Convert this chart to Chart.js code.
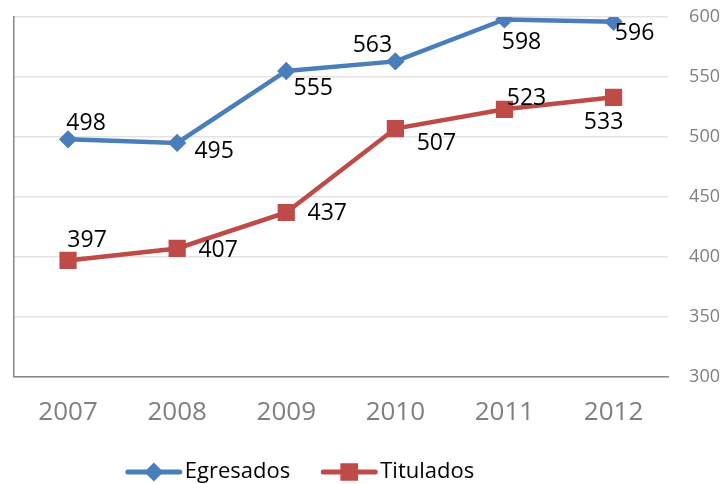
<!DOCTYPE html>
<html>
<head>
<meta charset="utf-8">
<script src="https://cdn.jsdelivr.net/npm/chart.js@4/dist/chart.umd.min.js"></script>
<style>
    html, body { margin: 0; padding: 0; background: #ffffff; }
    #wrap { width: 720px; height: 484px; }
</style>
</head>
<body>
<div id="wrap"><canvas id="chart"></canvas></div>
<script>
// données
const years = ['2007', '2008', '2009', '2010', '2011', '2012'];
const egresados = [498, 495, 555, 563, 598, 596];
const titulados = [397, 407, 437, 507, 523, 533];
const yTicks = [300, 350, 400, 450, 500, 550, 600];

// décalage des étiquettes par rapport au point (px)
const labelShift = {
    egresados: [[18, -16], [37, 9], [27, 17], [-23, -16], [17, 23], [21, 12]],
    titulados: [[19, -20], [41, 2], [41, 1], [41, 15], [22, -11], [-10, 25]]
};

const BLUE = '#4a7ebb';
const RED = '#be4b48';
const FONT = '"Open Sans", "DejaVu Sans", sans-serif';

// étiquettes de valeurs
const valueLabels = {
    id: 'valueLabels',
    afterDatasetsDraw(chart) {
        const ctx = chart.ctx;
        ctx.save();
        ctx.font = '23px ' + FONT;
        ctx.fillStyle = '#000000';
        ctx.textAlign = 'center';
        ctx.textBaseline = 'middle';
        chart.data.datasets.forEach((ds, i) => {
            const meta = chart.getDatasetMeta(i);
            const shifts = labelShift[ds.key];
            meta.data.forEach((pt, j) => {
                ctx.fillText(String(ds.data[j]), pt.x + shifts[j][0], pt.y + shifts[j][1]);
            });
        });
        ctx.restore();
    }
};

// légende avec ligne + marqueur
const lineLegend = {
    id: 'lineLegend',
    afterDraw(chart) {
        const ctx = chart.ctx;
        ctx.save();
        ctx.font = '22px ' + FONT;
        ctx.textBaseline = 'middle';
        const y = chart.height - 12;
        const lineLen = 56;
        const items = chart.data.datasets.map(ds => ({ ds, w: ctx.measureText(ds.label).width }));
        let total = 0;
        items.forEach((it, i) => { total += lineLen + 3 + it.w + (i < items.length - 1 ? 31 : 0); });
        let x = 300 - total / 2;
        items.forEach(it => {
            const ds = it.ds;
            ctx.strokeStyle = ds.borderColor;
            ctx.lineWidth = 5;
            ctx.lineCap = 'round';
            ctx.beginPath();
            ctx.moveTo(x + 2, y);
            ctx.lineTo(x + lineLen - 2, y);
            ctx.stroke();
            ctx.fillStyle = ds.borderColor;
            Chart.helpers.drawPoint(ctx, {
                pointStyle: ds.pointStyle,
                radius: ds.pointRadius,
                borderWidth: 1
            }, x + lineLen / 2, y);
            ctx.fillStyle = '#000000';
            ctx.textAlign = 'left';
            ctx.fillText(ds.label, x + lineLen + 3, y);
            x += lineLen + 3 + it.w + 31;
        });
        ctx.restore();
    }
};

new Chart(document.getElementById('chart'), {
    type: 'line',
    data: {
        labels: years,
        datasets: [{
            key: 'egresados',
            label: 'Egresados',
            data: egresados,
            borderColor: BLUE,
            backgroundColor: BLUE,
            borderWidth: 4.5,
            pointStyle: 'rectRot',
            pointRadius: 6,
            pointHoverRadius: 6,
            tension: 0
        }, {
            key: 'titulados',
            label: 'Titulados',
            data: titulados,
            borderColor: RED,
            backgroundColor: RED,
            borderWidth: 4.5,
            pointStyle: 'rect',
            pointRadius: 9,
            pointHoverRadius: 9,
            tension: 0
        }]
    },
    options: {
        responsive: true,
        maintainAspectRatio: false,
        animation: false,
        events: [],
        // Chart.js compte le padding des ticks deux fois, d'où les valeurs négatives
        layout: { padding: { left: 8, right: -21, top: 17, bottom: 36 } },
        plugins: {
            legend: { display: false },
            tooltip: { enabled: false }
        },
        scales: {
            x: {
                offset: true,
                grid: { display: false, drawTicks: false },
                border: { display: true, color: '#868686', width: 1.5 },
                ticks: { color: '#7f7f7f', font: { family: FONT, size: 26 }, padding: 20 }
            },
            y: {
                position: 'right',
                min: 300,
                max: 600,
                afterBuildTicks(axis) { axis.ticks = yTicks.map(v => ({ value: v })); },
                afterFit(axis) { axis.paddingTop = 0; axis.paddingBottom = 0; },
                grid: { color: '#e3e3e3', lineWidth: 1.5, drawTicks: false },
                border: { display: false },
                ticks: { color: '#7f7f7f', font: { family: FONT, size: 18 }, padding: 21 }
            },
            yLeft: {
                position: 'left',
                min: 300,
                max: 600,
                grid: { display: false, drawTicks: false },
                border: { display: true, color: '#868686', width: 1.5 },
                ticks: { display: false }
            }
        }
    },
    plugins: [valueLabels, lineLegend]
});
</script>
</body>
</html>
